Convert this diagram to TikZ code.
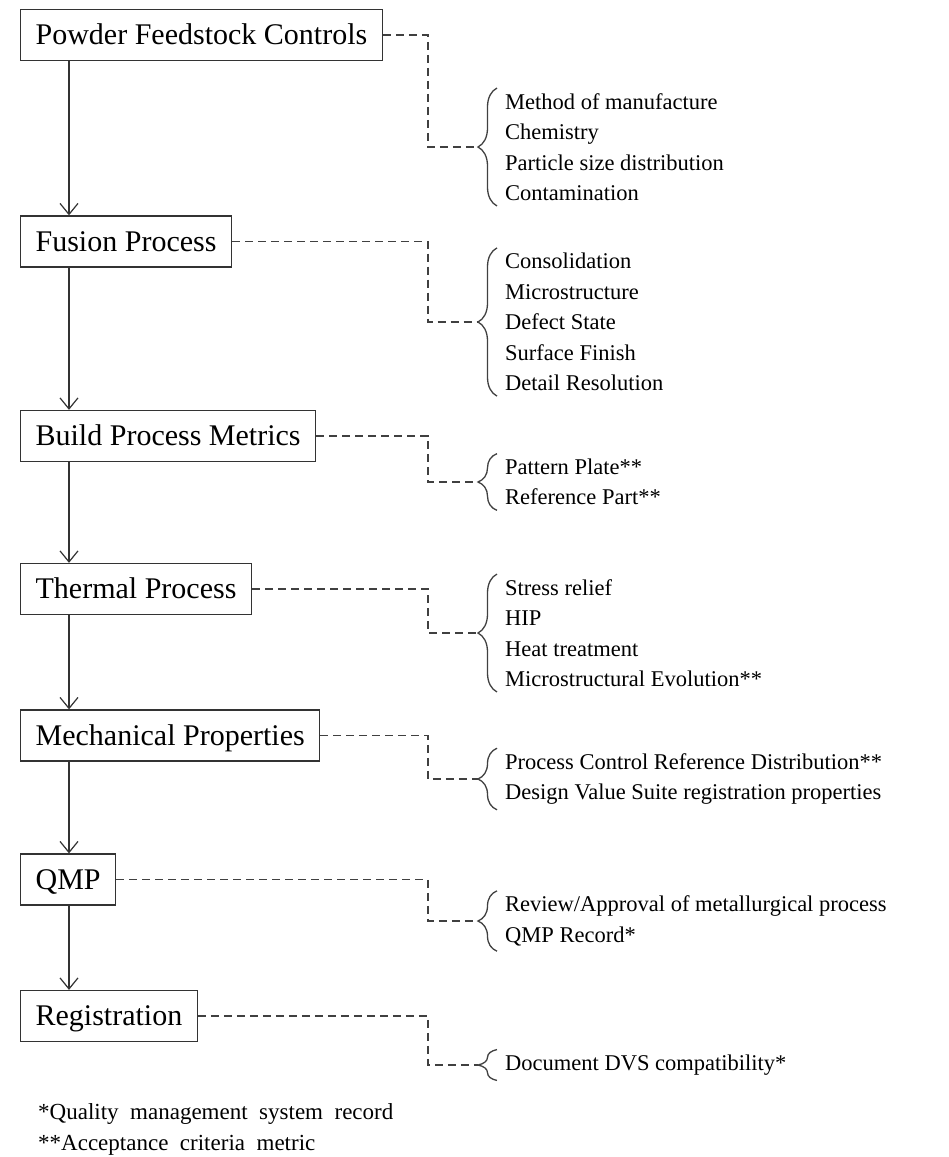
\documentclass[tikz,border=0pt]{standalone}
\usepackage{fontspec}
\setmainfont{Liberation Serif}
\usetikzlibrary{arrows.meta,decorations.pathreplacing}

\begin{document}
\begin{tikzpicture}[x=1pt,y=-1pt,
  stage/.style={draw=black!80,line width=1.3pt,anchor=west,minimum height=51pt,
                inner xsep=15pt,text height=19.5pt,text depth=0pt,
                font=\fontsize{30}{35}\selectfont},
  items/.style={anchor=west,align=left,inner xsep=0pt,inner ysep=5pt,
                font=\fontsize{22.5}{30.5}\selectfont},
  note/.style={anchor=west,align=left,inner sep=0pt,
               font=\fontsize{23}{31}\selectfont},
  flow/.style={-{Straight Barb[length=11pt,width=18pt]},line width=1.2pt,draw=black!80},
  link/.style={draw=black!75,line width=1.4pt,dash pattern=on 8pt off 5pt},
  curly/.style={draw=black!75,line width=1.3pt,decorate,decoration={brace,amplitude=19pt}}]
  \useasboundingbox (0,0) rectangle (949,1157);
  \coordinate (elbow) at (428,0);

  % process chain
  \node[stage] (pfc)  at (20,35)    {Powder Feedstock Controls};
  \node[stage] (fus)  at (20,241.5) {Fusion Process};
  \node[stage] (bpm)  at (20,436)   {Build Process Metrics};
  \node[stage] (thp)  at (20,589)   {Thermal Process};
  \node[stage] (mech) at (20,735.5) {Mechanical Properties};
  \node[stage] (qmp)  at (20,879.5) {QMP};
  \node[stage] (reg)  at (20,1016)  {Registration};

  \draw[flow] ([xshift=49pt]pfc.south west)  -- ([xshift=49pt]fus.north west);
  \draw[flow] ([xshift=49pt]fus.south west)  -- ([xshift=49pt]bpm.north west);
  \draw[flow] ([xshift=49pt]bpm.south west)  -- ([xshift=49pt]thp.north west);
  \draw[flow] ([xshift=49pt]thp.south west)  -- ([xshift=49pt]mech.north west);
  \draw[flow] ([xshift=49pt]mech.south west) -- ([xshift=49pt]qmp.north west);
  \draw[flow] ([xshift=49pt]qmp.south west)  -- ([xshift=49pt]reg.north west);

  % controls per stage
  \node[items] (pfcl)  at (505,147)  {Method of manufacture\\Chemistry\\Particle size distribution\\Contamination};
  \node[items] (fusl)  at (505,322)  {Consolidation\\Microstructure\\Defect State\\Surface Finish\\Detail Resolution};
  \node[items] (bpml)  at (505,482)  {Pattern Plate**\\Reference Part**};
  \node[items] (thpl)  at (505,633)  {Stress relief\\HIP\\Heat treatment\\Microstructural Evolution**};
  \node[items] (mechl) at (505,779)  {Process Control Reference Distribution**\\Design Value Suite registration properties};
  \node[items] (qmpl)  at (505,921)  {Review/Approval of metallurgical process\\QMP Record*};
  \node[items] (regl)  at (505,1065) {Document DVS compatibility*};

  \foreach \n in {pfcl,fusl,bpml,thpl,mechl,qmpl,regl}{
    \draw[curly] ([xshift=-8pt]\n.south west) -- ([xshift=-8pt]\n.north west);
    \coordinate (\n tip) at ([xshift=-27pt]\n.west);
  }

  \draw[link] (pfc.east)  -- (pfc.east -| elbow)  |- (pfcltip);
  \draw[link] (fus.east)  -- (fus.east -| elbow)  |- (fusltip);
  \draw[link] (bpm.east)  -- (bpm.east -| elbow)  |- (bpmltip);
  \draw[link] (thp.east)  -- (thp.east -| elbow)  |- (thpltip);
  \draw[link] (mech.east) -- (mech.east -| elbow) |- (mechltip);
  \draw[link] (qmp.east)  -- (qmp.east -| elbow)  |- (qmpltip);
  \draw[link] (reg.east)  -- (reg.east -| elbow)  |- (regltip);

  \node[note] (fn) at (38,1129) {*Quality\ \ management\ \ system\ \ record\\**Acceptance\ \ criteria\ \ metric};
\end{tikzpicture}
\end{document}
